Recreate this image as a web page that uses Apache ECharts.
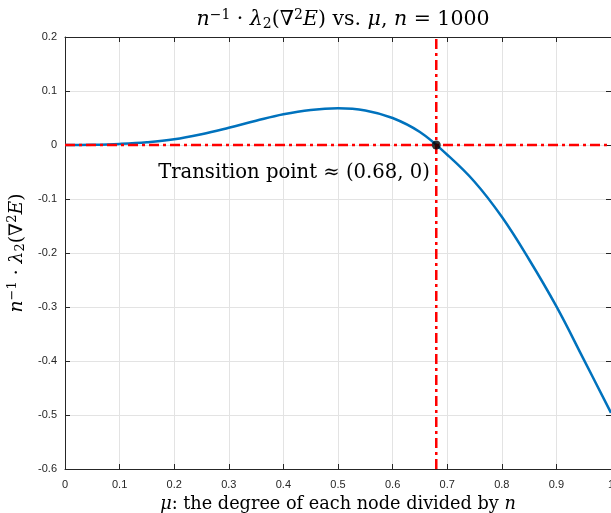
<!DOCTYPE html>
<html>
<head>
<meta charset="utf-8">
<script src="https://cdn.jsdelivr.net/npm/echarts@6/dist/echarts.min.js"></script>
<style>html,body{margin:0;padding:0;background:#fff}#c{width:611px;height:513px}</style>
</head>
<body>
<div id="c"></div>
<script>
const muValues = [0, 0.05, 0.1, 0.15, 0.2, 0.25, 0.3, 0.35, 0.4, 0.45, 0.5, 0.55, 0.6, 0.65, 0.7, 0.75, 0.8, 0.85, 0.9, 0.95, 1.0];
const lambdaValues = [0, 0.0005, 0.002, 0.005, 0.0105, 0.020, 0.032, 0.045, 0.057, 0.065, 0.068, 0.064, 0.050, 0.024, -0.018, -0.068, -0.133, -0.212, -0.299, -0.397, -0.496];
const transitionPoint = [0.68, 0];
const xRange = [0, 1];
const yRange = [-0.6, 0.2];
const annotationText = 'Transition point \u2248 (0.68, 0)';

const serif = '"DejaVu Serif", "Liberation Serif", serif';
const sans = '"Liberation Sans", Arial, sans-serif';
const tickColor = '#262626';

const chart = echarts.init(document.getElementById('c'), null, {renderer: 'canvas'});

function richStyles(size) {
  return {
    r: {fontFamily: serif, fontSize: size, fontWeight: 'normal', color: '#000'},
    i: {fontFamily: serif, fontSize: size, fontWeight: 'normal', fontStyle: 'italic', color: '#000'},
    sup: {fontFamily: serif, fontSize: Math.round(size * 0.7), fontWeight: 'normal', color: '#000', verticalAlign: 'top', padding: [0, 0, Math.round(size*0.45), 0]},
    sub: {fontFamily: serif, fontSize: Math.round(size * 0.7), fontWeight: 'normal', color: '#000', verticalAlign: 'bottom', padding: [Math.round(size*0.35), 0, 0, 0]}
  };
}

const exprLambda = '{i|n}{sup|\u22121}{r| \u00b7 }{i|\u03bb}{sub|2}{r|(\u2207}{sup|2}{i|E}{r|)}';

const pairs = muValues.map((x, k) => [x, lambdaValues[k]]);

const option = {
  animation: false,
  backgroundColor: '#fff',
  title: {
    text: exprLambda + '{r| vs. }{i|\u03bc}{r|, }{i|n}{r| = 1000}',
    left: 338,
    textAlign: 'center',
    top: 3,
    textStyle: {rich: richStyles(20.5), fontFamily: serif, fontSize: 20.5, fontWeight: 'normal'}
  },
  grid: {left: 65, right: 0, top: 37, bottom: 44, containLabel: false, outerBoundsMode: 'none'},
  xAxis: [{
    type: 'value', min: xRange[0], max: xRange[1], interval: 0.1,
    name: '{i|\u03bc}{r|: the degree of each node divided by }{i|n}',
    nameLocation: 'middle', nameGap: 12,
    nameTextStyle: {rich: richStyles(17.7)},
    axisLine: {show: true, onZero: false, lineStyle: {color: tickColor, width: 1}},
    axisTick: {show: true, inside: true, length: 5, lineStyle: {color: tickColor}},
    axisLabel: {color: tickColor, fontFamily: sans, fontSize: 11, margin: 10,
      formatter: v => String(Math.round(v * 10) / 10)},
    splitLine: {show: true, lineStyle: {color: '#e3e3e3', width: 1}}
  }, {
    type: 'value', position: 'top', min: xRange[0], max: xRange[1], interval: 0.1,
    axisLine: {show: true, onZero: false, lineStyle: {color: tickColor, width: 1}},
    axisTick: {show: true, inside: true, length: 5, lineStyle: {color: tickColor}},
    axisLabel: {show: false}, splitLine: {show: false}
  }],
  yAxis: [{
    type: 'value', min: yRange[0], max: yRange[1], interval: 0.1,
    name: exprLambda,
    nameLocation: 'middle', nameGap: 19, nameRotate: 90,
    nameTextStyle: {rich: richStyles(18.8)},
    axisLine: {show: true, onZero: false, lineStyle: {color: tickColor, width: 1}},
    axisTick: {show: true, inside: true, length: 5, lineStyle: {color: tickColor}},
    axisLabel: {color: tickColor, fontFamily: sans, fontSize: 11, margin: 8,
      formatter: v => String(Math.round(v * 10) / 10)},
    splitLine: {show: true, lineStyle: {color: '#e3e3e3', width: 1}}
  }, {
    type: 'value', position: 'right', min: yRange[0], max: yRange[1], interval: 0.1,
    axisLine: {show: true, onZero: false, lineStyle: {color: tickColor, width: 1}},
    axisTick: {show: true, inside: true, length: 5, lineStyle: {color: tickColor}},
    axisLabel: {show: false}, splitLine: {show: false}
  }],
  series: [{
    type: 'line', data: pairs, smooth: 0.4, showSymbol: false, symbol: 'none',
    lineStyle: {color: '#0072BD', width: 2.5}, z: 2
  }, {
    type: 'line', data: [[xRange[0], transitionPoint[1]], [xRange[1], transitionPoint[1]]],
    symbol: 'none', lineStyle: {color: '#ff0000', width: 2.5, type: [10, 4, 3, 4]}, z: 3
  }, {
    type: 'line', data: [[transitionPoint[0], yRange[0]], [transitionPoint[0], yRange[1]]],
    symbol: 'none', lineStyle: {color: '#ff0000', width: 2.5, type: [10, 4, 3, 4]}, z: 3
  }, {
    type: 'scatter', data: [transitionPoint], symbol: 'circle', symbolSize: 9,
    itemStyle: {color: '#000'}, z: 5,
    label: {show: true, position: 'left', distance: 0, offset: [-2, 28],
      formatter: '{r|' + annotationText + '}',
      rich: {r: {fontFamily: serif, fontSize: 19.6, color: '#000', opacity: 1}},
      textBorderWidth: 0}
  }]
};
chart.setOption(option);
</script>
</body>
</html>
